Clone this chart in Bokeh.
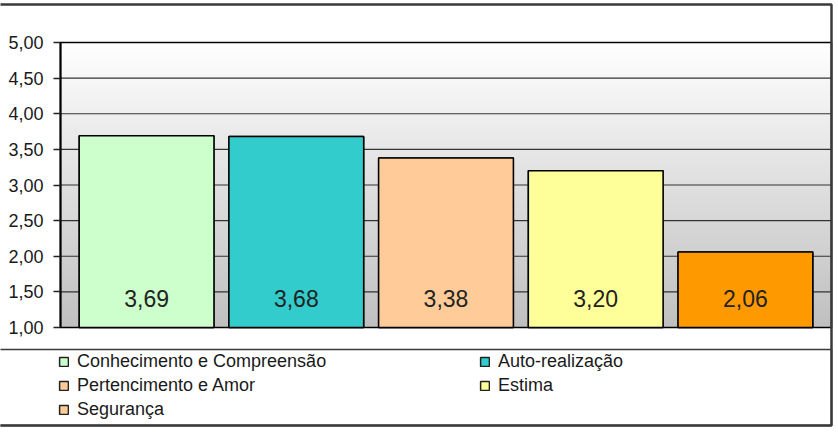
import numpy as np
from bokeh.plotting import figure
from bokeh.models import (Range1d, FixedTicker, Legend, LegendItem, BoxAnnotation,
                          ColumnDataSource)
from bokeh.embed import file_html
from bokeh.resources import INLINE
from bokeh.core.properties import value

# ---- data ----
categories = ["Conhecimento e Compreensão", "Auto-realização", "Pertencimento e Amor",
              "Estima", "Segurança"]
values = [3.69, 3.68, 3.38, 3.20, 2.06]
bar_colors = ["#CCFFCC", "#33CCCC", "#FFCC99", "#FFFF99", "#FF9900"]
legend_colors = ["#CCFFCC", "#33CCCC", "#FFCC99", "#FFFF99", "#FFCC99"]
y_ticks = [1.0, 1.5, 2.0, 2.5, 3.0, 3.5, 4.0, 4.5, 5.0]
y_tick_labels = ["1,00", "1,50", "2,00", "2,50", "3,00", "3,50", "4,00", "4,50", "5,00"]

value_labels = [f"{v:.2f}".replace(".", ",") for v in values]
FONT = "Liberation Sans"
FRAME = "#3a3a3a"

# ---- layout (pixels) ----
W, H = 838, 432
PLOT_L, PLOT_R, PLOT_T, PLOT_B = 60, 831, 42, 327

Y0, Y1 = y_ticks[0], y_ticks[-1]
pad = 0.075
xs = list(range(len(categories)))
xp0, xp1 = -0.5 - pad, len(categories) - 0.5 + pad
kx = (PLOT_R - PLOT_L) / (xp1 - xp0)
ky = (PLOT_B - PLOT_T) / (Y1 - Y0)
x_range = Range1d(xp0 - PLOT_L / kx, xp1 + (W - PLOT_R) / kx)
y_range = Range1d(Y0 - (H - PLOT_B) / ky, Y1 + PLOT_T / ky)

p = figure(width=W, height=H, x_range=x_range, y_range=y_range,
           output_backend="svg", toolbar_location=None,
           min_border_left=0, min_border_right=0, min_border_top=0, min_border_bottom=0)
p.background_fill_color = "white"
p.border_fill_color = "white"
p.outline_line_color = None

# plot-area gradient (white at top to grey at bottom)
n = PLOT_B - PLOT_T
shade = np.linspace(192, 255, n).astype(np.uint8)
img = np.empty((n, 1), dtype=np.uint32)
view = img.view(dtype=np.uint8).reshape((n, 1, 4))
view[:, 0, 0] = shade
view[:, 0, 1] = shade
view[:, 0, 2] = shade
view[:, 0, 3] = 255
p.image_rgba(image=[img], x=xp0, y=Y0, dw=xp1 - xp0, dh=Y1 - Y0, level="image")

# grid lines (limited to the plot area)
p.segment(x0=[xp0] * len(y_ticks), x1=[xp1] * len(y_ticks), y0=y_ticks, y1=y_ticks,
          line_color="#333333", line_width=1.2, level="underlay")
# plot-area border
p.quad(left=[xp0], right=[xp1], bottom=[Y0], top=[Y1], fill_color=None,
       line_color="black", line_width=1.5, level="underlay")

# bars
src = ColumnDataSource(dict(x=xs, top=values, bottom=[Y0] * len(values),
                            color=bar_colors, lcolor=legend_colors, label=value_labels))
# legend swatches come from this renderer (hidden exactly under the visible bars)
legend_r = p.vbar(x="x", top="top", bottom="bottom", width=0.9, fill_color="lcolor",
                  line_color="#222222", line_width=1.5, source=src)
p.vbar(x="x", top="top", bottom="bottom", width=0.9, fill_color="color",
       line_color="black", line_width=1.5, source=src)
p.text(x="x", y="bottom", text="label", source=src, text_align="center",
       text_baseline="middle", y_offset=-29, text_font=value(FONT),
       text_font_size="23px", text_color="#222222")

# axes
p.xaxis.visible = False
p.grid.visible = False
p.yaxis.fixed_location = xp0
p.yaxis.bounds = (Y0, Y1)
p.yaxis.ticker = FixedTicker(ticks=y_ticks)
p.yaxis.major_label_overrides = dict(zip(y_ticks, y_tick_labels))
p.yaxis.major_label_text_font = FONT
p.yaxis.major_label_text_font_size = "18px"
p.yaxis.major_label_text_color = "#1a1a1a"
p.yaxis.major_label_standoff = 10
p.yaxis.axis_line_color = "black"
p.yaxis.axis_line_width = 2
p.yaxis.major_tick_in = 0
p.yaxis.major_tick_out = 7
p.yaxis.major_tick_line_color = "#222222"
p.yaxis.major_tick_line_width = 1.5
p.yaxis.minor_tick_line_color = None

# legend
items = [LegendItem(label=name, renderers=[legend_r], index=i)
         for i, name in enumerate(categories)]
legend = Legend(items=items, location=(58, H - 350 - 70), orientation="horizontal", ncols=2,
                glyph_width=11, glyph_height=11, label_standoff=8, label_width=400,
                label_height=22, spacing=2, padding=0, margin=0,
                border_line_alpha=0, background_fill_alpha=0,
                label_text_font=FONT, label_text_font_size="18px",
                label_text_color="#1a1a1a")
p.add_layout(legend, "center")

# outer frame and legend box
def canvas_box(left, right, top, bottom, width):
    return BoxAnnotation(left=left, right=right, top=top, bottom=bottom,
                         left_units="canvas", right_units="canvas",
                         top_units="canvas", bottom_units="canvas",
                         fill_alpha=0, line_color=FRAME, line_alpha=1.0,
                         line_width=width, level="overlay")

p.add_layout(canvas_box(-10, 831, 4, 425, 2.5))
p.add_layout(canvas_box(-10, 831, 349, 425, 1.5))

open("out.html", "w").write(file_html(p, INLINE))
